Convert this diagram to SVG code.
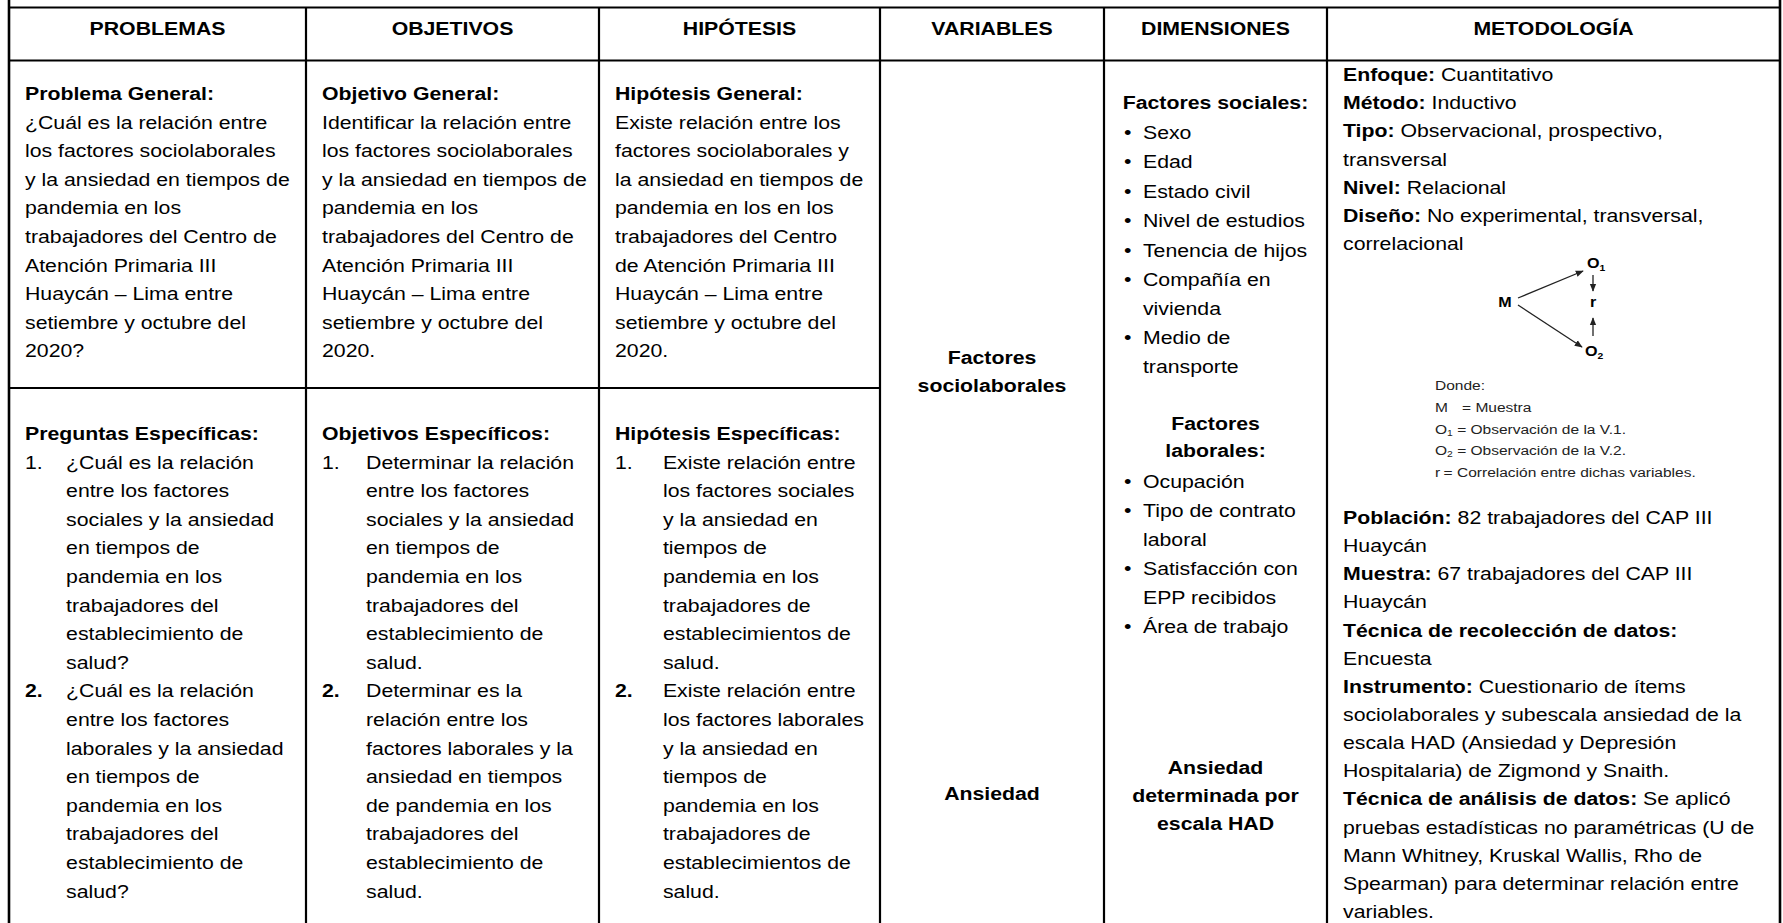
<svg xmlns="http://www.w3.org/2000/svg" width="1783" height="923" viewBox="0 0 1783 923">
<style>
.t{font-family:"Liberation Sans",Arial,sans-serif;font-size:18.5px;fill:#000}
.b{font-weight:bold}
.c{text-anchor:middle}
.ln{stroke:#000;stroke-width:2.2;fill:none}
.ob{stroke:#000;stroke-width:2.6;fill:none}
.sm{font-family:"Liberation Sans",Arial,sans-serif;font-size:13.5px;fill:#222}
.dg{font-family:"Liberation Sans",Arial,sans-serif;font-size:14px;font-weight:bold;fill:#000}
.ar{stroke:#222;stroke-width:1.3;fill:none;marker-end:url(#ah)}
</style>
<defs>
<marker id="ah" viewBox="0 0 10 10" refX="9" refY="5" markerWidth="8" markerHeight="8" markerUnits="userSpaceOnUse" orient="auto"><path d="M0,1 L10,5 L0,9 z" fill="#222"/></marker>
</defs>
<rect width="1783" height="923" fill="#fff"/>
<g id="grid">
<line class="ob" x1="9" y1="0" x2="9" y2="923"/>
<line class="ob" x1="1780" y1="0" x2="1780" y2="923"/>
<line class="ln" x1="9" y1="7.5" x2="1780" y2="7.5"/>
<line class="ln" x1="9" y1="60.5" x2="1780" y2="60.5"/>
<line class="ln" x1="306" y1="7.5" x2="306" y2="923"/>
<line class="ln" x1="599" y1="7.5" x2="599" y2="923"/>
<line class="ln" x1="880" y1="7.5" x2="880" y2="923"/>
<line class="ln" x1="1104" y1="7.5" x2="1104" y2="923"/>
<line class="ln" x1="1327" y1="7.5" x2="1327" y2="923"/>
<line class="ln" x1="9" y1="388" x2="880" y2="388"/>
</g>
<g id="headers">
<g transform="translate(157.5,0) scale(1.15,1)"><text class="t b c" x="0" y="35.5">PROBLEMAS</text></g>
<g transform="translate(452.5,0) scale(1.15,1)"><text class="t b c" x="0" y="35.5">OBJETIVOS</text></g>
<g transform="translate(739.5,0) scale(1.15,1)"><text class="t b c" x="0" y="35.5">HIPÓTESIS</text></g>
<g transform="translate(992,0) scale(1.15,1)"><text class="t b c" x="0" y="35.5">VARIABLES</text></g>
<g transform="translate(1215.5,0) scale(1.15,1)"><text class="t b c" x="0" y="35.5">DIMENSIONES</text></g>
<g transform="translate(1553.5,0) scale(1.15,1)"><text class="t b c" x="0" y="35.5">METODOLOGÍA</text></g>
</g>
<g id="problema-general" transform="translate(25,0) scale(1.15,1)">
<text class="t b" x="0" y="100">Problema General:</text>
<text class="t" x="0" y="128.6">¿Cuál es la relación entre</text>
<text class="t" x="0" y="157.2">los factores sociolaborales</text>
<text class="t" x="0" y="185.8">y la ansiedad en tiempos de</text>
<text class="t" x="0" y="214.4">pandemia en los</text>
<text class="t" x="0" y="243">trabajadores del Centro de</text>
<text class="t" x="0" y="271.6">Atención Primaria III</text>
<text class="t" x="0" y="300.2">Huaycán – Lima entre</text>
<text class="t" x="0" y="328.8">setiembre y octubre del</text>
<text class="t" x="0" y="357.4">2020?</text>
</g>
<g id="preguntas-especificas" transform="translate(25,0) scale(1.15,1)">
<text class="t b" x="0" y="440">Preguntas Específicas:</text>
<text class="t" x="0" y="468.6">1.</text>
<text class="t" x="35.7" y="468.6">¿Cuál es la relación</text>
<text class="t" x="35.7" y="497.2">entre los factores</text>
<text class="t" x="35.7" y="525.8">sociales y la ansiedad</text>
<text class="t" x="35.7" y="554.4">en tiempos de</text>
<text class="t" x="35.7" y="583">pandemia en los</text>
<text class="t" x="35.7" y="611.6">trabajadores del</text>
<text class="t" x="35.7" y="640.2">establecimiento de</text>
<text class="t" x="35.7" y="668.8">salud?</text>
<text class="t b" x="0" y="697.4">2.</text>
<text class="t" x="35.7" y="697.4">¿Cuál es la relación</text>
<text class="t" x="35.7" y="726">entre los factores</text>
<text class="t" x="35.7" y="754.6">laborales y la ansiedad</text>
<text class="t" x="35.7" y="783.2">en tiempos de</text>
<text class="t" x="35.7" y="811.8">pandemia en los</text>
<text class="t" x="35.7" y="840.4">trabajadores del</text>
<text class="t" x="35.7" y="869">establecimiento de</text>
<text class="t" x="35.7" y="897.6">salud?</text>
</g>
<g id="objetivo-general" transform="translate(322,0) scale(1.15,1)">
<text class="t b" x="0" y="100">Objetivo General:</text>
<text class="t" x="0" y="128.6">Identificar la relación entre</text>
<text class="t" x="0" y="157.2">los factores sociolaborales</text>
<text class="t" x="0" y="185.8">y la ansiedad en tiempos de</text>
<text class="t" x="0" y="214.4">pandemia en los</text>
<text class="t" x="0" y="243">trabajadores del Centro de</text>
<text class="t" x="0" y="271.6">Atención Primaria III</text>
<text class="t" x="0" y="300.2">Huaycán – Lima entre</text>
<text class="t" x="0" y="328.8">setiembre y octubre del</text>
<text class="t" x="0" y="357.4">2020.</text>
</g>
<g id="objetivos-especificos" transform="translate(322,0) scale(1.15,1)">
<text class="t b" x="0" y="440">Objetivos Específicos:</text>
<text class="t" x="0" y="468.6">1.</text>
<text class="t" x="38.3" y="468.6">Determinar la relación</text>
<text class="t" x="38.3" y="497.2">entre los factores</text>
<text class="t" x="38.3" y="525.8">sociales y la ansiedad</text>
<text class="t" x="38.3" y="554.4">en tiempos de</text>
<text class="t" x="38.3" y="583">pandemia en los</text>
<text class="t" x="38.3" y="611.6">trabajadores del</text>
<text class="t" x="38.3" y="640.2">establecimiento de</text>
<text class="t" x="38.3" y="668.8">salud.</text>
<text class="t b" x="0" y="697.4">2.</text>
<text class="t" x="38.3" y="697.4">Determinar es la</text>
<text class="t" x="38.3" y="726">relación entre los</text>
<text class="t" x="38.3" y="754.6">factores laborales y la</text>
<text class="t" x="38.3" y="783.2">ansiedad en tiempos</text>
<text class="t" x="38.3" y="811.8">de pandemia en los</text>
<text class="t" x="38.3" y="840.4">trabajadores del</text>
<text class="t" x="38.3" y="869">establecimiento de</text>
<text class="t" x="38.3" y="897.6">salud.</text>
</g>
<g id="hipotesis-general" transform="translate(615,0) scale(1.15,1)">
<text class="t b" x="0" y="100">Hipótesis General:</text>
<text class="t" x="0" y="128.6">Existe relación entre los</text>
<text class="t" x="0" y="157.2">factores sociolaborales y</text>
<text class="t" x="0" y="185.8">la ansiedad en tiempos de</text>
<text class="t" x="0" y="214.4">pandemia en los en los</text>
<text class="t" x="0" y="243">trabajadores del Centro</text>
<text class="t" x="0" y="271.6">de Atención Primaria III</text>
<text class="t" x="0" y="300.2">Huaycán – Lima entre</text>
<text class="t" x="0" y="328.8">setiembre y octubre del</text>
<text class="t" x="0" y="357.4">2020.</text>
</g>
<g id="hipotesis-especificas" transform="translate(615,0) scale(1.15,1)">
<text class="t b" x="0" y="440">Hipótesis Específicas:</text>
<text class="t" x="0" y="468.6">1.</text>
<text class="t" x="41.7" y="468.6">Existe relación entre</text>
<text class="t" x="41.7" y="497.2">los factores sociales</text>
<text class="t" x="41.7" y="525.8">y la ansiedad en</text>
<text class="t" x="41.7" y="554.4">tiempos de</text>
<text class="t" x="41.7" y="583">pandemia en los</text>
<text class="t" x="41.7" y="611.6">trabajadores de</text>
<text class="t" x="41.7" y="640.2">establecimientos de</text>
<text class="t" x="41.7" y="668.8">salud.</text>
<text class="t b" x="0" y="697.4">2.</text>
<text class="t" x="41.7" y="697.4">Existe relación entre</text>
<text class="t" x="41.7" y="726">los factores laborales</text>
<text class="t" x="41.7" y="754.6">y la ansiedad en</text>
<text class="t" x="41.7" y="783.2">tiempos de</text>
<text class="t" x="41.7" y="811.8">pandemia en los</text>
<text class="t" x="41.7" y="840.4">trabajadores de</text>
<text class="t" x="41.7" y="869">establecimientos de</text>
<text class="t" x="41.7" y="897.6">salud.</text>
</g>
<g id="variables" transform="translate(992,0) scale(1.15,1)">
<text class="t b c" x="0" y="364">Factores</text>
<text class="t b c" x="0" y="392">sociolaborales</text>
<text class="t b c" x="0" y="800">Ansiedad</text>
</g>
<g id="dimensiones" transform="translate(1215.5,0) scale(1.15,1)">
<text class="t b c" x="0" y="109">Factores sociales:</text>
<text class="t b c" x="0" y="430">Factores</text>
<text class="t b c" x="0" y="457">laborales:</text>
<text class="t b c" x="0" y="774">Ansiedad</text>
<text class="t b c" x="0" y="802">determinada por</text>
<text class="t b c" x="0" y="830">escala HAD</text>
</g>
<g id="dimensiones-lista" transform="translate(1124,0) scale(1.15,1)">
<text class="t" x="0" y="139">•</text><text class="t" x="16.5" y="139">Sexo</text>
<text class="t" x="0" y="168">•</text><text class="t" x="16.5" y="168">Edad</text>
<text class="t" x="0" y="198">•</text><text class="t" x="16.5" y="198">Estado civil</text>
<text class="t" x="0" y="227">•</text><text class="t" x="16.5" y="227">Nivel de estudios</text>
<text class="t" x="0" y="257">•</text><text class="t" x="16.5" y="257">Tenencia de hijos</text>
<text class="t" x="0" y="286.5">•</text><text class="t" x="16.5" y="286.5">Compañía en</text>
<text class="t" x="16.5" y="315">vivienda</text>
<text class="t" x="0" y="344.5">•</text><text class="t" x="16.5" y="344.5">Medio de</text>
<text class="t" x="16.5" y="373">transporte</text>
<text class="t" x="0" y="488">•</text><text class="t" x="16.5" y="488">Ocupación</text>
<text class="t" x="0" y="517">•</text><text class="t" x="16.5" y="517">Tipo de contrato</text>
<text class="t" x="16.5" y="546">laboral</text>
<text class="t" x="0" y="575">•</text><text class="t" x="16.5" y="575">Satisfacción con</text>
<text class="t" x="16.5" y="604">EPP recibidos</text>
<text class="t" x="0" y="633">•</text><text class="t" x="16.5" y="633">Área de trabajo</text>
</g>
<g id="metodologia" transform="translate(1343,0) scale(1.15,1)">
<text class="t" x="0" y="81"><tspan class="b">Enfoque:</tspan> Cuantitativo</text>
<text class="t" x="0" y="109.2"><tspan class="b">Método:</tspan> Inductivo</text>
<text class="t" x="0" y="137.4"><tspan class="b">Tipo:</tspan> Observacional, prospectivo,</text>
<text class="t" x="0" y="165.6">transversal</text>
<text class="t" x="0" y="193.8"><tspan class="b">Nivel:</tspan> Relacional</text>
<text class="t" x="0" y="222"><tspan class="b">Diseño:</tspan> No experimental, transversal,</text>
<text class="t" x="0" y="250.2">correlacional</text>
<text class="t" x="0" y="524"><tspan class="b">Población:</tspan> 82 trabajadores del CAP III</text>
<text class="t" x="0" y="552.2">Huaycán</text>
<text class="t" x="0" y="580.3"><tspan class="b">Muestra:</tspan> 67 trabajadores del CAP III</text>
<text class="t" x="0" y="608.5">Huaycán</text>
<text class="t" x="0" y="636.6"><tspan class="b">Técnica de recolección de datos:</tspan></text>
<text class="t" x="0" y="664.8">Encuesta</text>
<text class="t" x="0" y="692.9"><tspan class="b">Instrumento:</tspan> Cuestionario de ítems</text>
<text class="t" x="0" y="721.1">sociolaborales y subescala ansiedad de la</text>
<text class="t" x="0" y="749.2">escala HAD (Ansiedad y Depresión</text>
<text class="t" x="0" y="777.4">Hospitalaria) de Zigmond y Snaith.</text>
<text class="t" x="0" y="805.5"><tspan class="b">Técnica de análisis de datos:</tspan> Se aplicó</text>
<text class="t" x="0" y="833.7">pruebas estadísticas no paramétricas (U de</text>
<text class="t" x="0" y="861.8">Mann Whitney, Kruskal Wallis, Rho de</text>
<text class="t" x="0" y="890">Spearman) para determinar relación entre</text>
<text class="t" x="0" y="918.1">variables.</text>
</g>
<g id="diseno-diagrama">
<g transform="translate(1505,0) scale(1.15,1)"><text class="dg c" x="0" y="307">M</text></g>
<g transform="translate(1587,0) scale(1.15,1)"><text class="dg" x="0" y="268">O<tspan font-size="9" dy="3">1</tspan></text></g>
<g transform="translate(1590,0) scale(1.15,1)"><text class="dg" x="0" y="307">r</text></g>
<g transform="translate(1585,0) scale(1.15,1)"><text class="dg" x="0" y="356">O<tspan font-size="9" dy="3">2</tspan></text></g>
</g>
<g id="connectors">
<line class="ar" x1="1518" y1="298" x2="1583" y2="271"/>
<line class="ar" x1="1518" y1="305" x2="1582" y2="347"/>
<line class="ar" x1="1593" y1="275" x2="1593" y2="291"/>
<line class="ar" x1="1593" y1="336" x2="1593" y2="318"/>
</g>
<g id="leyenda" transform="translate(1435,0) scale(1.15,1)">
<text class="sm" x="0" y="390">Donde:</text>
<text class="sm" x="0" y="412">M</text><text class="sm" x="23.5" y="412">= Muestra</text>
<text class="sm" x="0" y="434">O<tspan font-size="9" dy="2">1</tspan><tspan dy="-2"> = Observación de la V.1.</tspan></text>
<text class="sm" x="0" y="455">O<tspan font-size="9" dy="2">2</tspan><tspan dy="-2"> = Observación de la V.2.</tspan></text>
<text class="sm" x="0" y="477">r</text><text class="sm" x="7.5" y="477">= Correlación entre dichas variables.</text>
</g>
</svg>
